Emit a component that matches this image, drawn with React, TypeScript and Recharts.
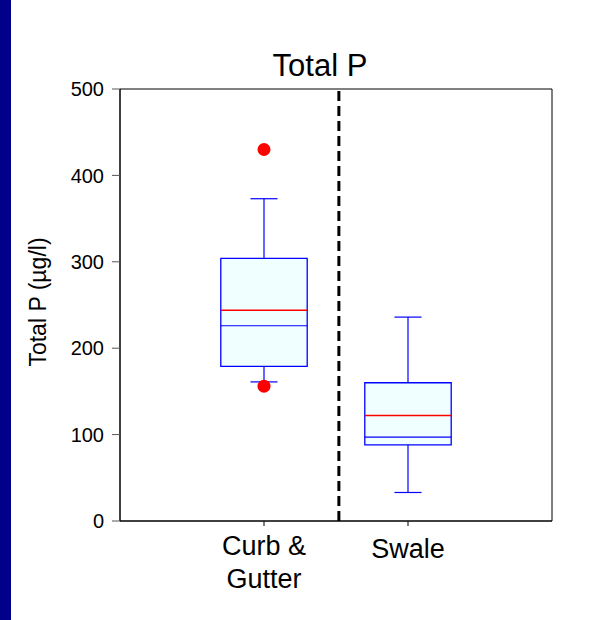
import { ComposedChart, ReferenceArea, ReferenceLine, Scatter, XAxis, YAxis } from "recharts";

const categories = ["Curb &\nGutter", "Swale"];
const lowerWhisker = [161, 33];
const q1 = [179, 88];
const median = [226, 97];
const mean = [244, 122];
const q3 = [304, 160];
const upperWhisker = [373, 236];
const outliers = [[430, 156], []];
const yTicks = [0, 100, 200, 300, 400, 500];
const dividerAt = 1.52;

const font = "'Liberation Sans', Arial, sans-serif";
const boxHalf = 0.3;
const capHalf = 0.094;

const outlierPoints = outliers.flatMap((vals, i) => vals.map((y) => ({ x: i + 1, y })));

function CategoryTick({ x, y, payload }: any) {
  const label = categories[Math.round(payload.value) - 1] ?? "";
  const lines = label.split("\n");
  const first = lines.length > 1 ? 29 : 32;
  return (
    <text x={x} y={y} textAnchor="middle" fontSize={27} fontFamily={font} fill="#000">
      {lines.map((line, i) => (
        <tspan key={line} x={x} dy={i === 0 ? first : 33}>
          {line}
        </tspan>
      ))}
    </text>
  );
}

export default function App() {
  return (
    <div style={{ position: "absolute", left: 0, top: 0, width: 590, height: 620, background: "#fff", fontFamily: font }}>
      <div style={{ position: "absolute", left: 0, top: 0, width: 11, height: 620, background: "#00008B" }} />
      <ComposedChart width={590} height={620} data={outlierPoints} margin={{ top: 89, right: 38, bottom: 0, left: 0 }}>
        <XAxis
          type="number"
          dataKey="x"
          domain={[0, 3]}
          ticks={[1, 2]}
          height={99}
          tickSize={5}
          tickMargin={0}
          axisLine={{ stroke: "#000" }}
          tickLine={{ stroke: "#000" }}
          tick={<CategoryTick />}
          interval={0}
        />
        <YAxis
          type="number"
          dataKey="y"
          domain={[0, 500]}
          ticks={yTicks}
          width={120}
          tickSize={8}
          tickMargin={8}
          axisLine={{ stroke: "#000" }}
          tickLine={{ stroke: "#555" }}
          tick={{ fill: "#000", fontSize: 20, fontFamily: font }}
        />
        <ReferenceArea x1={0} x2={3} y1={0} y2={500} fill="none" fillOpacity={0} stroke="#000" strokeWidth={1} />
        {categories.map((c, i) => (
          <ReferenceArea
            key={`box-${c}`}
            x1={i + 1 - boxHalf}
            x2={i + 1 + boxHalf}
            y1={q1[i]}
            y2={q3[i]}
            fill="#F0FFFF"
            fillOpacity={1}
            stroke="#0000FF"
            strokeWidth={1.3}
          />
        ))}
        {categories.map((c, i) => (
          <ReferenceLine
            key={`uw-${c}`}
            segment={[{ x: i + 1, y: q3[i] }, { x: i + 1, y: upperWhisker[i] }]}
            stroke="#0000FF"
            strokeWidth={1.2}
          />
        ))}
        {categories.map((c, i) => (
          <ReferenceLine
            key={`lw-${c}`}
            segment={[{ x: i + 1, y: lowerWhisker[i] }, { x: i + 1, y: q1[i] }]}
            stroke="#0000FF"
            strokeWidth={1.2}
          />
        ))}
        {categories.map((c, i) => (
          <ReferenceLine
            key={`uc-${c}`}
            segment={[{ x: i + 1 - capHalf, y: upperWhisker[i] }, { x: i + 1 + capHalf, y: upperWhisker[i] }]}
            stroke="#0000FF"
            strokeWidth={1.2}
          />
        ))}
        {categories.map((c, i) => (
          <ReferenceLine
            key={`lc-${c}`}
            segment={[{ x: i + 1 - capHalf, y: lowerWhisker[i] }, { x: i + 1 + capHalf, y: lowerWhisker[i] }]}
            stroke="#0000FF"
            strokeWidth={1.2}
          />
        ))}
        {categories.map((c, i) => (
          <ReferenceLine
            key={`med-${c}`}
            segment={[{ x: i + 1 - boxHalf, y: median[i] }, { x: i + 1 + boxHalf, y: median[i] }]}
            stroke="#0000FF"
            strokeWidth={1.2}
          />
        ))}
        {categories.map((c, i) => (
          <ReferenceLine
            key={`mean-${c}`}
            segment={[{ x: i + 1 - boxHalf, y: mean[i] }, { x: i + 1 + boxHalf, y: mean[i] }]}
            stroke="#FF0000"
            strokeWidth={1.5}
          />
        ))}
        <ReferenceLine x={dividerAt} stroke="#000" strokeWidth={3} strokeDasharray="10 5" />
        <Scatter
          data={outlierPoints}
          isAnimationActive={false}
          shape={(p: any) => <circle cx={p.cx} cy={p.cy} r={6.5} fill="#FF0000" />}
        />
      </ComposedChart>
      <svg width={590} height={620} style={{ position: "absolute", left: 0, top: 0, pointerEvents: "none" }}>
        <text x={320} y={76} textAnchor="middle" fontSize={31} fontFamily={font} fill="#000">
          Total P
        </text>
        <text
          x={46}
          y={302}
          transform="rotate(-90 46 302)"
          textAnchor="middle"
          fontSize={23}
          fontFamily={font}
          fill="#000"
        >
          Total P (µg/l)
        </text>
      </svg>
    </div>
  );
}
